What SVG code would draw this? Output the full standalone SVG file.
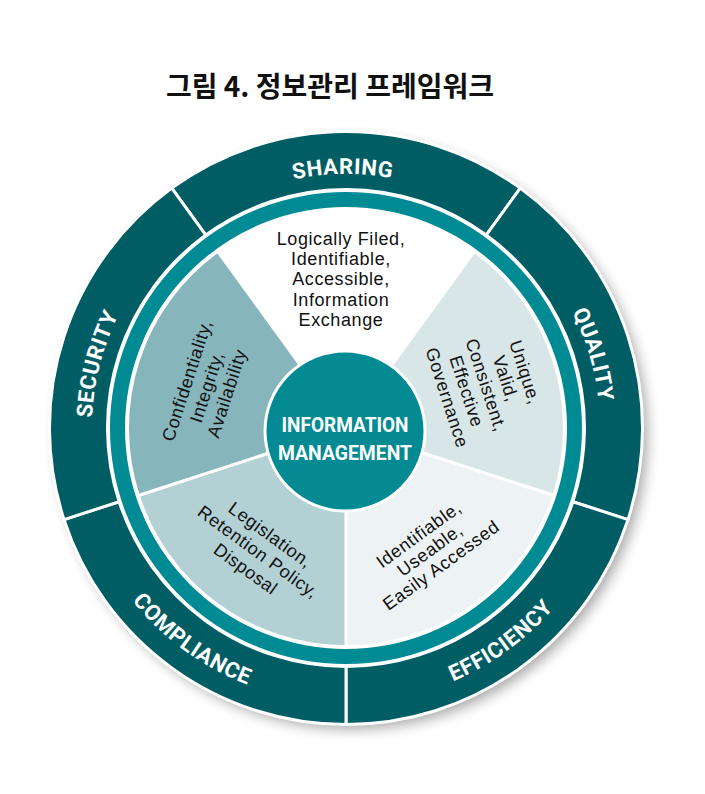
<svg xmlns="http://www.w3.org/2000/svg" width="705" height="794" viewBox="0 0 705 794">
<defs>
<style>
.dark{fill:#005d64;stroke:#ffffff;stroke-width:3}
.wedge{stroke:#ffffff;stroke-width:3}
.lbl{font-family:Roboto,"Liberation Sans",sans-serif;font-weight:700;font-size:22px;fill:#ffffff;letter-spacing:0.6px}
.t{font-family:"Liberation Sans",Arial,sans-serif;font-size:18px;letter-spacing:0.6px;fill:#111111;text-anchor:middle}
.c{font-family:Roboto,"Liberation Sans",sans-serif;font-weight:700;font-size:21px;fill:#ffffff;text-anchor:middle}
</style>
<filter id="sh" x="-20%" y="-20%" width="140%" height="140%">
<feGaussianBlur stdDeviation="7"/>
</filter>
<path id="pShare" d="M196.70,222.51 A254,254 0 0 1 495.30,222.51"/>
<path id="pQual" d="M495.30,222.51 A254,254 0 0 1 587.57,506.49"/>
<path id="pSec" d="M104.43,506.49 A254,254 0 0 1 196.70,222.51"/>
<path id="pEff" d="M346,703 A275,275 0 0 0 607.54,512.98"/>
<path id="pComp" d="M84.46,512.98 A275,275 0 0 0 346,703"/>
</defs>

<text x="330" y="97" text-anchor="middle" style="font-family:'Noto Sans CJK KR','Noto Sans',sans-serif;font-weight:700;font-size:28px;fill:#111111">그림 4. 정보관리 프레임워크</text>

<circle cx="352" cy="434" r="295" fill="#000000" opacity="0.35" filter="url(#sh)"/>
<circle cx="346" cy="428" r="295" fill="#ffffff"/>

<g id="seg-sharing">
<path class="dark" d="M171.73,188.13 A296.5,296.5 0 0 1 520.27,188.13 L486.19,235.05 A238.5,238.5 0 0 0 205.81,235.05 Z"/>
<text class="lbl"><textPath href="#pShare" startOffset="49%" text-anchor="middle">SHARING</textPath></text>
</g>
<g id="seg-quality">
<path class="dark" d="M520.27,188.13 A296.5,296.5 0 0 1 627.99,519.62 L572.83,501.70 A238.5,238.5 0 0 0 486.19,235.05 Z"/>
<text class="lbl"><textPath href="#pQual" startOffset="52%" text-anchor="middle">QUALITY</textPath></text>
</g>
<g id="seg-efficiency">
<path class="dark" d="M627.99,519.62 A296.5,296.5 0 0 1 346,724.5 L346,666.5 A238.5,238.5 0 0 0 572.83,501.70 Z"/>
<text class="lbl"><textPath href="#pEff" startOffset="50%" text-anchor="middle">EFFICIENCY</textPath></text>
</g>
<g id="seg-compliance">
<path class="dark" d="M346,724.5 A296.5,296.5 0 0 1 64.01,519.62 L119.17,501.70 A238.5,238.5 0 0 0 346,666.5 Z"/>
<text class="lbl"><textPath href="#pComp" startOffset="50%" text-anchor="middle">COMPLIANCE</textPath></text>
</g>
<g id="seg-security">
<path class="dark" d="M64.01,519.62 A296.5,296.5 0 0 1 171.73,188.13 L205.81,235.05 A238.5,238.5 0 0 0 119.17,501.70 Z"/>
<text class="lbl"><textPath href="#pSec" startOffset="45%" text-anchor="middle">SECURITY</textPath></text>
</g>

<g id="teal-ring">
<circle cx="346" cy="428" r="228.5" fill="none" stroke="#008a93" stroke-width="15"/>
</g>

<g id="sec-sharing">
<path class="wedge" fill="#ffffff" d="M346,428 L217.57,251.23 A218.5,218.5 0 0 1 474.43,251.23 Z"/>
<text class="t" x="341" y="245">Logically Filed,<tspan x="341" dy="20.2">Identifiable,</tspan><tspan x="341" dy="20.2">Accessible,</tspan><tspan x="341" dy="20.2">Information</tspan><tspan x="341" dy="20.2">Exchange</tspan></text>
</g>
<g id="sec-quality">
<path class="wedge" fill="#d9e6e8" d="M346,428 L474.43,251.23 A218.5,218.5 0 0 1 553.81,495.52 Z"/>
<g transform="translate(486,385) rotate(72)">
<text class="t" x="0" y="-35">Unique,<tspan x="0" dy="20.5">Valid,</tspan><tspan x="0" dy="20.5">Consistent,</tspan><tspan x="0" dy="20.5">Effective</tspan><tspan x="0" dy="20.5">Governance</tspan></text>
</g>
</g>
<g id="sec-efficiency">
<path class="wedge" fill="#edf3f4" d="M346,428 L553.81,495.52 A218.5,218.5 0 0 1 346,646.5 Z"/>
<g transform="translate(430,550) rotate(-36)">
<text class="t" x="0" y="-13">Identifiable,<tspan x="0" dy="19">Useable,</tspan><tspan x="0" dy="19">Easily Accessed</tspan></text>
</g>
</g>
<g id="sec-compliance">
<path class="wedge" fill="#b3d0d5" d="M346,428 L346,646.5 A218.5,218.5 0 0 1 138.19,495.52 Z"/>
<g transform="translate(258,552) rotate(36)">
<text class="t" x="0" y="-15">Legislation,<tspan x="0" dy="21">Retention Policy,</tspan><tspan x="0" dy="21">Disposal</tspan></text>
</g>
</g>
<g id="sec-security">
<path class="wedge" fill="#87b5bc" d="M346,428 L138.19,495.52 A218.5,218.5 0 0 1 217.57,251.23 Z"/>
<g transform="translate(207,387) rotate(-72)">
<text class="t" x="0" y="-15">Confidentiality,<tspan x="0" dy="21">Integrity,</tspan><tspan x="0" dy="21">Availability</tspan></text>
</g>
</g>

<g id="center">
<circle cx="345" cy="431" r="80" fill="#038a92" stroke="#ffffff" stroke-width="3"/>
<text class="c" x="345" y="432" textLength="127" lengthAdjust="spacingAndGlyphs">INFORMATION</text>
<text class="c" x="345" y="460" textLength="134" lengthAdjust="spacingAndGlyphs">MANAGEMENT</text>
</g>
</svg>
